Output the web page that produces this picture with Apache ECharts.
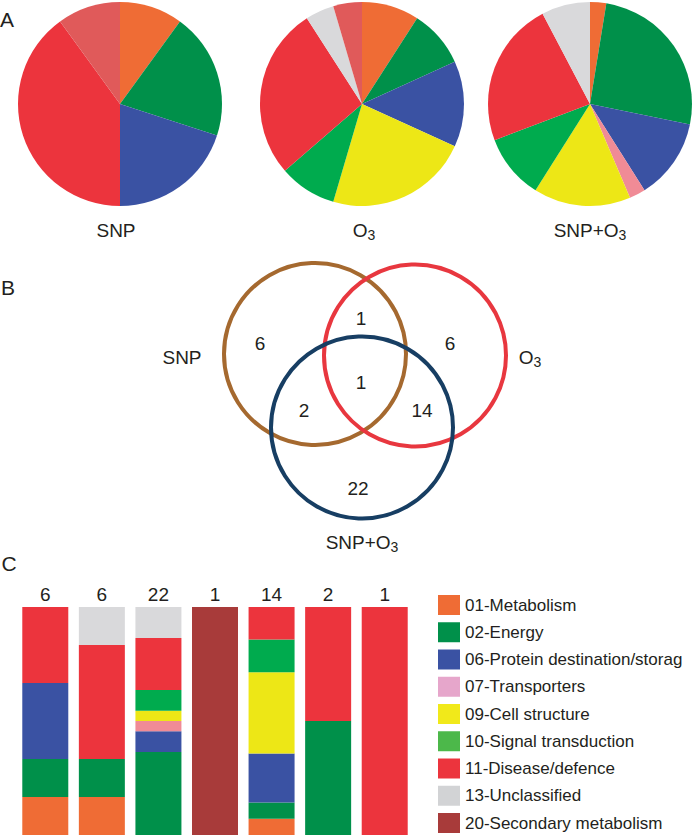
<!DOCTYPE html>
<html><head><meta charset="utf-8">
<script src="https://cdn.jsdelivr.net/npm/echarts@6/dist/echarts.min.js"></script>
<style>html,body{margin:0;padding:0;background:#fff}#c{width:696px;height:836px}</style>
</head><body><div id="c"></div>
<script>
// ---- data ----
const categories = ['01-Metabolism','02-Energy','06-Protein destination/storag','07-Transporters','09-Cell structure','10-Signal transduction','11-Disease/defence','13-Unclassified','20-Secondary metabolism'];
const catColors = ['#ef6c35','#00904a','#3a52a3','#f08b96','#ede716','#00ab4e','#ec343d','#d9d9db','#a83b3a'];
const pieColors = ['#ef6c35','#00904a','#3a52a3','#f08b96','#ede716','#00ab4e','#ec343d','#d9d9db','#e05a5a'];
const legendColors = ['#ef6c35','#00904a','#3a52a3','#e6a6cb','#f1e91a','#4cb84a','#ec343d','#d2d3d5','#a83b3a'];
const treatments = ['SNP','O3','SNP+O3'];
const pieSNP  = [1,2,2,0,0,0,4,0,1];
const pieO3   = [2,2,3,0,5,2,6,1,1];
const pieBoth = [1,10,5,1,6,4,9,3,0];
const vennRegions = ['SNP only','SNP∩O3','O3 only','all three','SNP∩SNP+O3','O3∩SNP+O3','SNP+O3 only'];
const vennCounts  = [6,1,6,1,2,14,22];
const barGroups = ['SNP only','O3 only','SNP+O3 only','all three','O3∩SNP+O3','SNP∩SNP+O3','SNP∩O3'];
const barCounts = [
  [1,1,0,0,1,0,0], // 01
  [1,1,8,0,1,1,0], // 02
  [2,0,2,0,3,0,0], // 06
  [0,0,1,0,0,0,0], // 07
  [0,0,1,0,5,0,0], // 09
  [0,0,2,0,2,0,0], // 10
  [2,3,5,0,2,1,1], // 11
  [0,1,3,0,0,0,0], // 13
  [0,0,0,1,0,0,0]  // 20
];
// ---- layout (not data) ----
const pieCenters = [[120,104],[362,104],[590,104]];
const pieLabelX = [116,364,590];
const pieRadius = 102;
const vennCircleLayout = [[-47,-31],[53,-29.5],[0,42.5]];
const vennCircleR = 91;
const vennColors = ['#a5692f','#e8373f','#173e63'];
const vennCountPos = [[-102,-42],[-1,-67],[88,-42],[-1,-3],[-58,25],[60,25],[-4,103]];
const vennSetPos = [[-180,-28],[168,-28],[0,157]];

const TXT = '#231f20';
const FONT = 'Liberation Sans, Arial, Helvetica, sans-serif';
const totals = barGroups.map((g,j)=>barCounts.reduce((s,r)=>s+r[j],0));
const rich = {m:{fontSize:19,lineHeight:24,color:TXT,fill:TXT,fontFamily:FONT},s:{fontSize:14,lineHeight:14,verticalAlign:'bottom',color:TXT,fill:TXT,fontFamily:FONT}};
const fmtName = n => n.replace('O3','{m|O}{s|3}').replace(/^SNP\+/, '{m|SNP+}').replace(/^SNP$/,'{m|SNP}');

const chart = echarts.init(document.getElementById('c'), null, {renderer:'svg'});

const series = [];
[pieSNP,pieO3,pieBoth].forEach((vals,k)=>{
  series.push({
    type:'pie', center:pieCenters[k], radius:pieRadius, startAngle:90, clockwise:true,
    silent:true, label:{show:false}, labelLine:{show:false},
    itemStyle:{borderWidth:0},
    data: vals.map((v,i)=>({name:categories[i], value:v, itemStyle:{color:pieColors[i]}})).filter(d=>d.value>0)
  });
});
categories.forEach((c,i)=>{
  series.push({
    type:'bar', name:c, stack:'c', xAxisIndex:0, yAxisIndex:0, barWidth:46, silent:true,
    itemStyle:{color:catColors[i]},
    data: barCounts[i].map((v,j)=>v/totals[j])
  });
});
series.push({
  type:'custom', xAxisIndex:1, yAxisIndex:1, silent:true, clip:false,
  data: vennCircleLayout.map((p,i)=>[p[0],p[1],vennCircleR,i]),
  renderItem:(params,api)=>{
    const c = api.coord([api.value(0),api.value(1)]);
    const r = api.size([api.value(2),0])[0];
    return {type:'circle', shape:{cx:c[0],cy:c[1],r:r}, style:{fill:'none',stroke:vennColors[api.value(3)],lineWidth:4}};
  }
});
series.push({
  type:'custom', xAxisIndex:1, yAxisIndex:1, silent:true, clip:false,
  data: vennCountPos.map((p,i)=>[p[0],p[1],vennCounts[i]]),
  renderItem:(params,api)=>{
    const c = api.coord([api.value(0),api.value(1)]);
    return {type:'text', x:c[0], y:c[1], style:{text:String(api.value(2)), fontSize:19, fill:TXT, fontFamily:FONT, align:'center', verticalAlign:'middle'}};
  }
});
series.push({
  type:'custom', xAxisIndex:1, yAxisIndex:1, silent:true, clip:false,
  data: vennSetPos.map((p,i)=>[p[0],p[1],i]),
  renderItem:(params,api)=>{
    const c = api.coord([api.value(0),api.value(1)]);
    return {type:'text', x:c[0], y:c[1], style:{text:fmtName(treatments[api.value(2)]), rich:rich, fontSize:19, fill:TXT, fontFamily:FONT, align:'center', verticalAlign:'middle'}};
  }
});

const graphics = [
  {type:'text', x:7, y:19, style:{text:'A', fontSize:21, fill:TXT, fontFamily:FONT, align:'center', verticalAlign:'middle'}},
  {type:'text', x:8, y:287, style:{text:'B', fontSize:21, fill:TXT, fontFamily:FONT, align:'center', verticalAlign:'middle'}},
  {type:'text', x:9, y:563, style:{text:'C', fontSize:21, fill:TXT, fontFamily:FONT, align:'center', verticalAlign:'middle'}}
];
treatments.forEach((t,k)=>{
  graphics.push({type:'text', x:pieLabelX[k], y:230, style:{text:fmtName(t), rich:rich, fontSize:19, fill:TXT, fontFamily:FONT, align:'center', verticalAlign:'middle'}});
});

chart.setOption({
  animation:false,
  backgroundColor:'#fff',
  textStyle:{fontFamily:FONT},
  grid:[
    {left:17, top:607, width:396, height:228},
    {left:162, top:185, width:400, height:400}
  ],
  xAxis:[
    {type:'category', gridIndex:0, data:barGroups, position:'top', axisLine:{show:false}, axisTick:{show:false},
     axisLabel:{formatter:(v,i)=>String(totals[i]), fontSize:19, color:TXT, margin:3, fontFamily:FONT}},
    {type:'value', gridIndex:1, min:-200, max:200, show:false}
  ],
  yAxis:[
    {type:'value', gridIndex:0, min:0, max:1, show:false},
    {type:'value', gridIndex:1, min:-200, max:200, inverse:true, show:false}
  ],
  legend:{
    orient:'vertical', left:438, top:595, padding:0, itemWidth:22, itemHeight:20, itemGap:7.25, itemTextGap:5,
    icon:'rect', selectedMode:false,
    textStyle:{fontSize:17, color:TXT, fontFamily:FONT},
    data: categories.map((n,i)=>({name:n, itemStyle:{color:legendColors[i], borderWidth:0}}))
  },
  graphic: graphics,
  series: series
});
</script></body></html>
